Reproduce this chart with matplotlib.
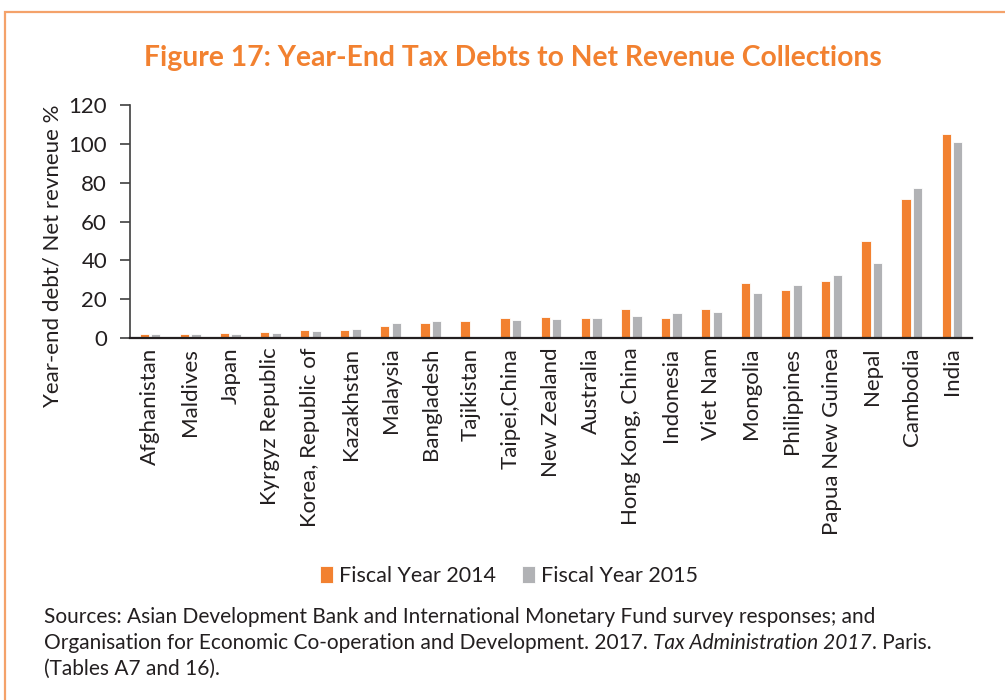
import numpy as np
import matplotlib.pyplot as plt
from matplotlib.patches import Rectangle

# ---------------------------------------------------
# Data
# ---------------------------------------------------
countries = [
    "Afghanistan", "Maldives", "Japan", "Kyrgyz Republic", "Korea, Republic of",
    "Kazakhstan", "Malaysia", "Bangladesh", "Tajikistan", "Taipei,China",
    "New Zealand", "Australia", "Hong Kong, China", "Indonesia", "Viet Nam",
    "Mongolia", "Philippines", "Papua New Guinea", "Nepal", "Cambodia", "India",
]
fy2014 = [2.1, 2.2, 2.4, 3.3, 4.1, 4.1, 6.4, 7.9, 8.9, 10.5,
          11.0, 10.5, 14.8, 10.3, 15.1, 28.3, 24.9, 29.4, 50.0, 71.4, 105.2]
fy2015 = [1.9, 1.9, 2.1, 2.6, 3.6, 4.6, 7.6, 8.9, np.nan, 9.1,
          10.0, 10.1, 11.3, 12.7, 13.4, 23.2, 27.3, 32.4, 38.6, 77.3, 100.8]
series_names = ["Fiscal Year 2014", "Fiscal Year 2015"]

ORANGE = "#F28130"
GREY = "#B1B2B5"
TEXT = "#231F20"
FONT = "Lato"

plt.rcParams["font.family"] = [FONT, "DejaVu Sans"]

fig = plt.figure(figsize=(10.05, 7), dpi=100)

# orange frame (top and left edges visible)
fig.patches.append(Rectangle((5 / 1005, -0.1), 1.2, 1 - 12 / 700 + 0.1,
                             transform=fig.transFigure, fill=False,
                             edgecolor="#F4A26A", lw=1.6))

ax = fig.add_axes([130 / 1005, 1 - 338 / 700, 842 / 1005, 233 / 700])

x = np.arange(len(countries))
w = 0.23
ax.bar(x - 0.145, fy2014, width=w, color=ORANGE, edgecolor="white",
       linewidth=0.6, label=series_names[0])
ax.bar(x + 0.145, fy2015, width=w, color=GREY, edgecolor="white",
       linewidth=0.6, label=series_names[1])

ax.set_xlim(-0.5, len(countries) - 0.5)
ax.set_ylim(0, 120)
ax.set_yticks(range(0, 121, 20))
ax.set_xticks(x)
ax.set_xticklabels(countries, rotation=90, fontsize=16, color=TEXT)
ax.tick_params(axis="x", length=0, pad=7)
ax.tick_params(axis="y", labelsize=16, colors=TEXT, length=7.5,
               width=1.2, direction="out", pad=9)
for t in ax.yaxis.get_ticklines():
    t.set_markeredgecolor("#404040")

for s in ["top", "right"]:
    ax.spines[s].set_visible(False)
ax.spines["left"].set_color("#404040")
ax.spines["left"].set_linewidth(1.2)
ax.spines["bottom"].set_color(TEXT)
ax.spines["bottom"].set_linewidth(1.6)

ax.set_ylabel("Year-end debt/ Net revneue %", fontsize=16, color=TEXT)
ax.yaxis.set_label_coords((63 - 130) / 842, (338 - 256) / 233)

fig.text(513 / 1005, 1 - 58 / 700,
         "Figure 17: Year-End Tax Debts to Net Revenue Collections",
         ha="center", va="center", fontsize=20.3, fontweight="bold",
         color=ORANGE)

fig.legend(loc="center", bbox_to_anchor=(509 / 1005, 1 - 576 / 700),
           ncol=2, frameon=False, fontsize=15.5, handlelength=0.6,
           handleheight=0.8, handletextpad=0.3, columnspacing=1.2,
           labelcolor=TEXT)

# ---------------------------------------------------
# Sources note (middle line has an italic title)
# ---------------------------------------------------
fs = 15
fig.text(44 / 1005, 1 - 617 / 700,
         "Sources: Asian Development Bank and International Monetary Fund survey responses; and",
         ha="left", va="center", fontsize=fs, color=TEXT)

renderer = fig.canvas.get_renderer()
xpos = 44
pieces = [
    ("Organisation for Economic Co-operation and Development. 2017. ", "normal"),
    ("Tax Administration 2017", "italic"),
    (". Paris.", "normal"),
]
for txt, style in pieces:
    t = fig.text(xpos / 1005, 1 - 643 / 700, txt, ha="left", va="center",
                 fontsize=fs, color=TEXT, style=style)
    xpos = t.get_window_extent(renderer).x1

fig.text(44 / 1005, 1 - 669 / 700, "(Tables A7 and 16).",
         ha="left", va="center", fontsize=fs, color=TEXT)

fig.savefig("out.png", dpi=100)
